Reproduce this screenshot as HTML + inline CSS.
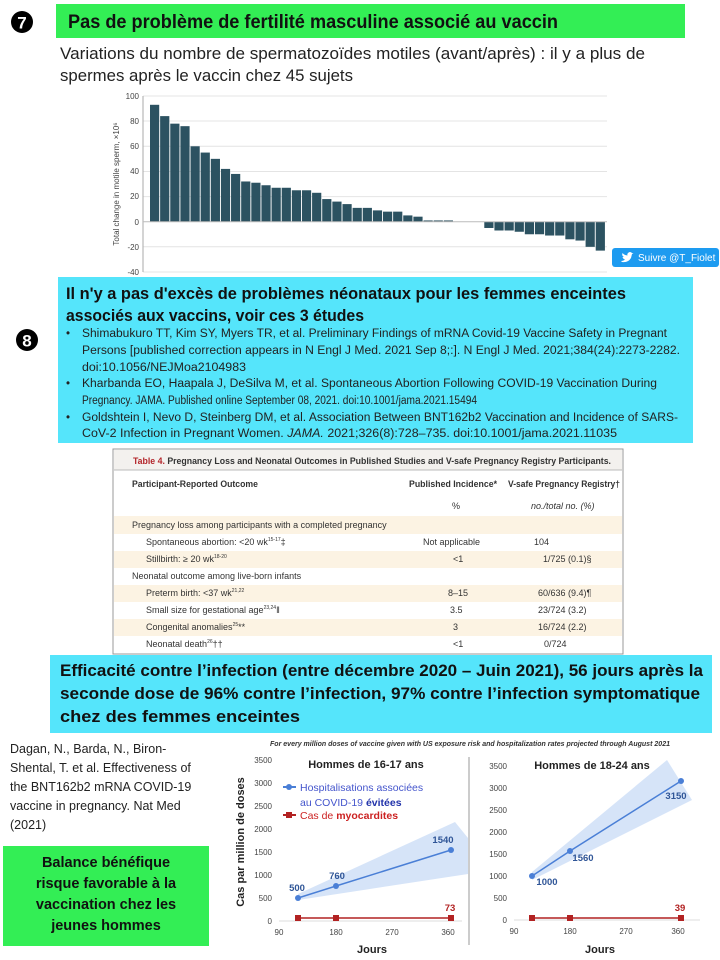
<!DOCTYPE html>
<html><head><meta charset="utf-8"><style>
html,body{margin:0;padding:0;background:#fff}
svg{display:block}
text{font-family:"Liberation Sans",sans-serif}
</style></head><body>
<svg width="720" height="960" viewBox="0 0 720 960" xmlns="http://www.w3.org/2000/svg">
<circle cx="22" cy="22" r="11" fill="#000"/>
<text x="22" y="28.5" font-size="17" font-weight="bold" fill="#fff" text-anchor="middle">7</text>
<rect x="56" y="4" width="629" height="34" fill="#33ee55"/>
<text x="68" y="28" font-size="19" font-weight="bold" fill="#111" textLength="490" lengthAdjust="spacingAndGlyphs">Pas de problème de fertilité masculine associé au vaccin</text>
<text x="60" y="59" font-size="17" fill="#222" textLength="585" lengthAdjust="spacingAndGlyphs">Variations du nombre de spermatozoïdes motiles (avant/après) : il y a plus de</text>
<text x="60" y="81" font-size="17" fill="#222" textLength="293" lengthAdjust="spacingAndGlyphs">spermes après le vaccin chez 45 sujets</text>

<g stroke="#e4e4e4" stroke-width="1">
<line x1="143" y1="96" x2="607" y2="96"/><line x1="143" y1="121" x2="607" y2="121"/>
<line x1="143" y1="146.3" x2="607" y2="146.3"/><line x1="143" y1="171.5" x2="607" y2="171.5"/>
<line x1="143" y1="196.6" x2="607" y2="196.6"/><line x1="143" y1="246.8" x2="607" y2="246.8"/>
<line x1="143" y1="272" x2="607" y2="272"/>
</g>
<line x1="143" y1="96" x2="143" y2="272" stroke="#aaa"/>
<g font-size="8" fill="#444" text-anchor="end">
<text x="139" y="99">100</text><text x="139" y="124">80</text><text x="139" y="149">60</text>
<text x="139" y="174">40</text><text x="139" y="199">20</text><text x="139" y="225">0</text>
<text x="139" y="250">-20</text><text x="139" y="275">-40</text>
</g>
<text transform="translate(119,184) rotate(-90)" font-size="8" fill="#444" text-anchor="middle">Total change in motile sperm, ×10⁶</text>
<g id="bars" fill="#2c5261"></g>
<line x1="143" y1="221.7" x2="607" y2="221.7" stroke="#bbb"/>

<rect x="612" y="248" width="107" height="19" rx="3" fill="#1d9bf0"/>
<path d="M622 262 q6 1 9-4 l1-4 l1.5-1 l-1.5 0 q-2-2-4 0 q-1 1 -0.5 2.5 q-3 0-5-2.5 q-1 3 1.5 4 l-1.5 0 q0.5 2 2.5 2.5 q-1.5 1.5-4 1.5z" fill="#fff"/>
<text x="638" y="261" font-size="10" fill="#fff">Suivre @T_Fiolet</text>

<rect x="58" y="277" width="635" height="166" fill="#55e5fb"/>
<circle cx="27" cy="340" r="11" fill="#000"/>
<text x="27" y="346.5" font-size="17" font-weight="bold" fill="#fff" text-anchor="middle">8</text>
<text x="66" y="299" font-size="17" font-weight="bold" fill="#111" textLength="560" lengthAdjust="spacingAndGlyphs">Il n'y a pas d'excès de problèmes néonataux pour les  femmes enceintes</text>
<text x="66" y="321" font-size="17" font-weight="bold" fill="#111" textLength="298" lengthAdjust="spacingAndGlyphs">associés aux vaccins, voir ces 3 études</text>
<g font-size="11.5" fill="#222">
<text x="66" y="337">•</text>
<text x="82" y="337" textLength="585" lengthAdjust="spacingAndGlyphs">Shimabukuro TT, Kim SY, Myers TR, et al. Preliminary Findings of mRNA Covid-19 Vaccine Safety in Pregnant</text>
<text x="82" y="354" textLength="598" lengthAdjust="spacingAndGlyphs">Persons [published correction appears in N Engl J Med.  2021 Sep 8;:]. N Engl J Med. 2021;384(24):2273-2282.</text>
<text x="82" y="371" textLength="164" lengthAdjust="spacingAndGlyphs">doi:10.1056/NEJMoa2104983</text>
<text x="66" y="387">•</text>
<text x="82" y="387" textLength="575" lengthAdjust="spacingAndGlyphs">Kharbanda EO, Haapala J, DeSilva M, et al. Spontaneous Abortion Following COVID-19 Vaccination During</text>
<text x="82" y="404" textLength="395" lengthAdjust="spacingAndGlyphs">Pregnancy. JAMA.  Published online September 08, 2021. doi:10.1001/jama.2021.15494</text>
<text x="66" y="421">•</text>
<text x="82" y="421" textLength="596" lengthAdjust="spacingAndGlyphs">Goldshtein I, Nevo  D, Steinberg DM, et al. Association Between  BNT162b2 Vaccination and Incidence of SARS-</text>
<text x="82" y="437" textLength="535" lengthAdjust="spacingAndGlyphs">CoV-2 Infection in Pregnant Women. <tspan font-style="italic">JAMA.</tspan>  2021;326(8):728–735. doi:10.1001/jama.2021.11035</text>
</g>

<rect x="113" y="449" width="510" height="205" fill="#fff" stroke="#999"/>
<rect x="114" y="450" width="508" height="20" fill="#f3f1ee"/>
<line x1="114" y1="470" x2="622" y2="470" stroke="#bbb"/>
<rect x="114" y="516" width="508" height="18" fill="#fcf3e3"/>
<rect x="114" y="551" width="508" height="17" fill="#fcf3e3"/>
<rect x="114" y="585" width="508" height="17" fill="#fcf3e3"/>
<rect x="114" y="619" width="508" height="17" fill="#fcf3e3"/>
<text x="133" y="464" font-size="9" font-weight="bold" fill="#333" textLength="478" lengthAdjust="spacingAndGlyphs"><tspan fill="#b3262b">Table 4.</tspan> Pregnancy Loss and Neonatal Outcomes in Published Studies and V-safe Pregnancy Registry Participants.</text>
<g font-size="9" fill="#333">
<text x="132" y="487" font-weight="bold" textLength="126" lengthAdjust="spacingAndGlyphs">Participant-Reported Outcome</text>
<text x="409" y="487" font-weight="bold" textLength="88" lengthAdjust="spacingAndGlyphs">Published Incidence*</text>
<text x="508" y="487" font-weight="bold" textLength="112" lengthAdjust="spacingAndGlyphs">V-safe Pregnancy Registry†</text>
<text x="452" y="509">%</text>
<text x="531" y="509" font-style="italic">no./total no. (%)</text>
<text x="132" y="528">Pregnancy loss among participants with a completed pregnancy</text>
<text x="146" y="545">Spontaneous abortion: &lt;20 wk<tspan font-size="5" dy="-4">15-17</tspan><tspan dy="4">‡</tspan></text>
<text x="423" y="545">Not applicable</text><text x="534" y="545">104</text>
<text x="146" y="562">Stillbirth: ≥ 20 wk<tspan font-size="5" dy="-4">18-20</tspan></text>
<text x="453" y="562">&lt;1</text><text x="543" y="562">1/725 (0.1)§</text>
<text x="132" y="579">Neonatal outcome among live-born infants</text>
<text x="146" y="596">Preterm birth: &lt;37 wk<tspan font-size="5" dy="-4">21,22</tspan></text>
<text x="448" y="596">8–15</text><text x="538" y="596">60/636 (9.4)¶</text>
<text x="146" y="613">Small size for gestational age<tspan font-size="5" dy="-4">23,24</tspan><tspan dy="4">‖</tspan></text>
<text x="450" y="613">3.5</text><text x="538" y="613">23/724 (3.2)</text>
<text x="146" y="630">Congenital anomalies<tspan font-size="5" dy="-4">25</tspan><tspan dy="4">**</tspan></text>
<text x="453" y="630">3</text><text x="538" y="630">16/724 (2.2)</text>
<text x="146" y="647">Neonatal death<tspan font-size="5" dy="-4">26</tspan><tspan dy="4">††</tspan></text>
<text x="453" y="647">&lt;1</text><text x="544" y="647">0/724</text>
</g>

<rect x="50" y="655" width="662" height="78" fill="#55e5fb"/>
<g font-size="16.5" font-weight="bold" fill="#111">
<text x="60" y="676" textLength="643" lengthAdjust="spacingAndGlyphs">Efficacité contre l’infection (entre décembre 2020 – Juin 2021), 56 jours après la</text>
<text x="60" y="699" textLength="640" lengthAdjust="spacingAndGlyphs">seconde dose de 96% contre l’infection, 97% contre l’infection symptomatique</text>
<text x="60" y="722" textLength="240" lengthAdjust="spacingAndGlyphs">chez des femmes enceintes</text>
</g>

<g font-size="12.5" fill="#222">
<text x="10" y="753">Dagan, N., Barda, N., Biron-</text>
<text x="10" y="772">Shental, T. et al. Effectiveness of</text>
<text x="10" y="791">the BNT162b2  mRNA COVID-19</text>
<text x="10" y="810">vaccine in pregnancy. Nat Med</text>
<text x="10" y="829">(2021)</text>
</g>
<rect x="3" y="846" width="206" height="100" fill="#33ee55"/>
<g font-size="14.5" font-weight="bold" fill="#111" text-anchor="middle">
<text x="106" y="867">Balance bénéfique</text>
<text x="106" y="888">risque favorable à la</text>
<text x="106" y="909">vaccination chez les</text>
<text x="106" y="930">jeunes hommes</text>
</g>

<text x="470" y="746" font-size="7.5" font-style="italic" font-weight="bold" fill="#333" text-anchor="middle" textLength="400" lengthAdjust="spacingAndGlyphs">For every million doses of vaccine given with US exposure risk and hospitalization rates projected through August 2021</text>
<line x1="469" y1="757" x2="469" y2="945" stroke="#999"/>
<g stroke="#ddd"><line x1="279" y1="921" x2="462" y2="921"/><line x1="514" y1="920" x2="700" y2="920"/></g>
<g font-size="8" fill="#444" text-anchor="end">
<text x="272" y="924">0</text><text x="272" y="901">500</text><text x="272" y="878">1000</text><text x="272" y="855">1500</text><text x="272" y="832">2000</text><text x="272" y="809">2500</text><text x="272" y="786">3000</text><text x="272" y="763">3500</text>
<text x="507" y="923">0</text><text x="507" y="901">500</text><text x="507" y="879">1000</text><text x="507" y="857">1500</text><text x="507" y="835">2000</text><text x="507" y="813">2500</text><text x="507" y="791">3000</text><text x="507" y="769">3500</text>
</g>
<g font-size="8" fill="#444" text-anchor="middle">
<text x="279" y="935">90</text><text x="336" y="935">180</text><text x="392" y="935">270</text><text x="448" y="935">360</text>
<text x="514" y="934">90</text><text x="570" y="934">180</text><text x="626" y="934">270</text><text x="678" y="934">360</text>
</g>
<g font-size="11" font-weight="bold" fill="#222" text-anchor="middle">
<text x="372" y="953">Jours</text><text x="600" y="953">Jours</text>
</g>
<text transform="translate(244,842) rotate(-90)" font-size="11" font-weight="bold" fill="#222" text-anchor="middle">Cas par million de doses</text>
<text x="366" y="768" font-size="11" font-weight="bold" fill="#222" text-anchor="middle">Hommes de 16-17 ans</text>
<text x="592" y="769" font-size="11" font-weight="bold" fill="#222" text-anchor="middle">Hommes de 18-24 ans</text>
<line x1="283" y1="787" x2="296" y2="787" stroke="#4a7fd6" stroke-width="2"/><circle cx="289" cy="787" r="3" fill="#4a7fd6"/>
<text x="300" y="791" font-size="10.5" fill="#4455cc">Hospitalisations associées</text>
<text x="300" y="806" font-size="10.5" fill="#4455cc">au COVID-19 <tspan font-weight="bold" fill="#2233aa">évitées</tspan></text>
<line x1="283" y1="815" x2="296" y2="815" stroke="#b22222" stroke-width="2"/><rect x="286" y="812" width="6" height="6" fill="#b22222"/>
<text x="300" y="819" font-size="10.5" fill="#cc2222">Cas de <tspan font-weight="bold">myocardites</tspan></text>
<polygon points="298,894 455,822 468,838 468,874 298,900" fill="#cfdff7" opacity="0.85"/>
<polygon points="532,872 667,760 692,800 532,880" fill="#cfdff7" opacity="0.85"/>
<polyline points="298,898 336,886 451,850" fill="none" stroke="#4a7fd6" stroke-width="1.5"/>
<g fill="#4a7fd6"><circle cx="298" cy="898" r="3"/><circle cx="336" cy="886" r="3"/><circle cx="451" cy="850" r="3"/></g>
<polyline points="532,876 570,851 681,781" fill="none" stroke="#4a7fd6" stroke-width="1.5"/>
<g fill="#4a7fd6"><circle cx="532" cy="876" r="3"/><circle cx="570" cy="851" r="3"/><circle cx="681" cy="781" r="3"/></g>
<line x1="298" y1="918" x2="451" y2="918" stroke="#b22222" stroke-width="1.5"/>
<g fill="#b22222"><rect x="295" y="915" width="6" height="6"/><rect x="333" y="915" width="6" height="6"/><rect x="448" y="915" width="6" height="6"/></g>
<line x1="532" y1="918" x2="681" y2="918" stroke="#b22222" stroke-width="1.5"/>
<g fill="#b22222"><rect x="529" y="915" width="6" height="6"/><rect x="567" y="915" width="6" height="6"/><rect x="678" y="915" width="6" height="6"/></g>
<g font-size="9.5" font-weight="bold" fill="#2f5597" text-anchor="middle">
<text x="297" y="891">500</text><text x="337" y="879">760</text><text x="443" y="843">1540</text>
<text x="547" y="885">1000</text><text x="583" y="861">1560</text><text x="676" y="799">3150</text>
</g>
<g font-size="9.5" font-weight="bold" fill="#b22222" text-anchor="middle">
<text x="450" y="911">73</text><text x="680" y="911">39</text>
</g>
</svg>
<script>
(function(){
var v=[93,84,78,76,60,55,50,42,38,32,31,29,27,27,25,25,23,18,16,14,11,11,9,8,8,5,4,1,1,1,0,0,0,-5,-7,-7,-8,-10,-10,-11,-11,-14,-15,-20,-23];
var g=document.getElementById('bars'),ns='http://www.w3.org/2000/svg',z=221.7,s=1.257;
v.forEach(function(d,i){if(!d)return;var r=document.createElementNS(ns,'rect');
var x=150+i*10.13,h=Math.abs(d)*s;r.setAttribute('x',x);r.setAttribute('width',9.2);
r.setAttribute('y',d>0?z-h:z);r.setAttribute('height',h);g.appendChild(r);});
})();
</script>
</body></html>
